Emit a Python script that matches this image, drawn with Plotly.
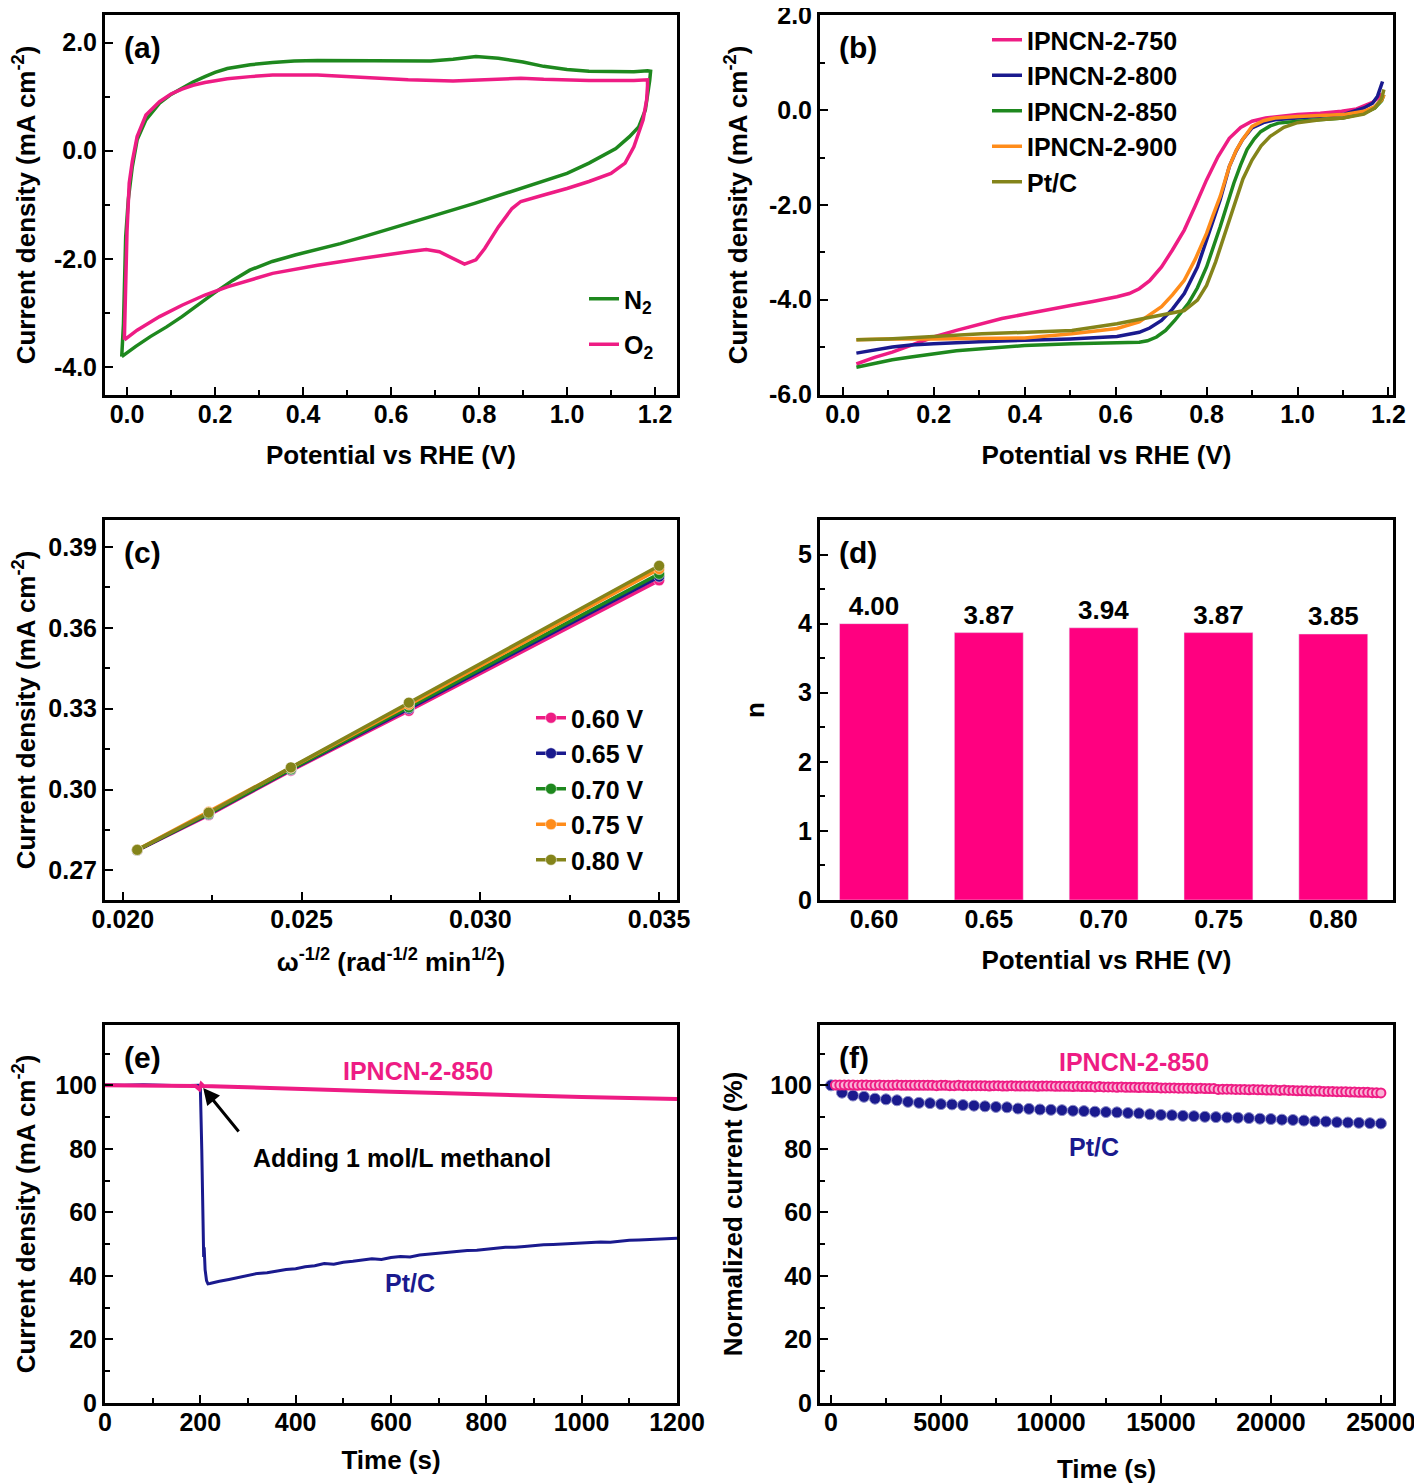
import plotly.graph_objects as go
from plotly.subplots import make_subplots

# ---------------- data ----------------
# (a) CV loops (path order: up the left side, along the top, back along the bottom)
cv_n2_x = [-0.012, -0.008, -0.003, 0.003, 0.012, 0.023, 0.043, 0.074, 0.10, 0.125, 0.15, 0.177, 0.2, 0.228,
           0.28, 0.331, 0.38, 0.433, 0.536, 0.639, 0.69, 0.741, 0.793, 0.844, 0.9, 0.947, 1.0, 1.05, 1.1,
           1.152, 1.183, 1.19, 1.188, 1.185, 1.178, 1.163, 1.142, 1.111, 1.05, 1.0, 0.947, 0.895, 0.79,
           0.69, 0.587, 0.485, 0.382, 0.33, 0.279, 0.24, 0.197, 0.16, 0.125, 0.09, 0.053, 0.02, -0.012]
cv_n2_y = [-3.81, -3.2, -1.6, -0.9, -0.3, 0.2, 0.57, 0.88, 1.04, 1.16, 1.27, 1.37, 1.45, 1.52,
           1.59, 1.63, 1.66, 1.67, 1.66, 1.66, 1.66, 1.69, 1.74, 1.71, 1.64, 1.56, 1.50, 1.47, 1.46,
           1.46, 1.48, 1.47, 1.30, 1.12, 0.75, 0.44, 0.26, 0.04, -0.23, -0.42, -0.56, -0.70, -0.975,
           -1.22, -1.47, -1.72, -1.93, -2.05, -2.21, -2.40, -2.64, -2.87, -3.07, -3.26, -3.44, -3.62, -3.81]
cv_o2_x = [-0.006, -0.004, 0.0, 0.005, 0.012, 0.023, 0.043, 0.074, 0.10, 0.125, 0.15, 0.177, 0.228,
           0.28, 0.331, 0.433, 0.536, 0.639, 0.741, 0.793, 0.844, 0.895, 0.947, 1.05, 1.152, 1.183,
           1.183, 1.181, 1.173, 1.163, 1.152, 1.132, 1.10, 1.05, 1.0, 0.947, 0.895, 0.875, 0.844, 0.813,
           0.793, 0.767, 0.741, 0.71, 0.68, 0.639, 0.536, 0.433, 0.331, 0.228, 0.177, 0.125, 0.074,
           0.023, -0.006]
cv_o2_y = [-3.50, -2.8, -1.5, -0.6, -0.2, 0.26, 0.66, 0.91, 1.05, 1.14, 1.21, 1.26, 1.33,
           1.37, 1.40, 1.40, 1.35, 1.31, 1.29, 1.31, 1.32, 1.34, 1.32, 1.30, 1.30, 1.31,
           1.20, 0.94, 0.57, 0.32, 0.07, -0.23, -0.42, -0.57, -0.70, -0.82, -0.94, -1.07, -1.41, -1.81,
           -2.02, -2.10, -1.99, -1.87, -1.83, -1.87, -1.99, -2.12, -2.27, -2.52, -2.67, -2.86, -3.07,
           -3.32, -3.50]
cv_yticks = [-4.0, -2.0, 0.0, 2.0]
cv_yticktext = ["-4.0", "-2.0", "0.0", "2.0"]

# (b) LSV curves
lsv_750_x = [0.03, 0.07, 0.109, 0.15, 0.2, 0.25, 0.306, 0.35, 0.405, 0.45, 0.504, 0.55, 0.603, 0.63,
             0.652, 0.675, 0.701, 0.725, 0.751, 0.775, 0.8, 0.825, 0.85, 0.875, 0.9, 0.93, 0.96, 1.0,
             1.05, 1.097, 1.13, 1.146, 1.165, 1.176, 1.185]
lsv_750_y = [-5.36, -5.22, -5.11, -4.96, -4.79, -4.65, -4.51, -4.40, -4.30, -4.21, -4.12, -4.04, -3.94,
             -3.87, -3.77, -3.60, -3.31, -2.95, -2.53, -2.02, -1.47, -0.98, -0.59, -0.36, -0.23, -0.16,
             -0.13, -0.09, -0.06, -0.02, 0.03, 0.10, 0.17, 0.25, 0.35]
lsv_800_x = [0.03, 0.07, 0.109, 0.15, 0.2, 0.3, 0.4, 0.5, 0.603, 0.63, 0.652, 0.675, 0.701, 0.725,
             0.751, 0.78, 0.8, 0.815, 0.83, 0.85, 0.865, 0.879, 0.9, 0.925, 0.95, 1.0, 1.05, 1.1,
             1.146, 1.165, 1.176, 1.183, 1.187]
lsv_800_y = [-5.13, -5.07, -5.0, -4.96, -4.93, -4.89, -4.86, -4.83, -4.78, -4.74, -4.69, -4.60, -4.44,
             -4.20, -3.87, -3.31, -2.74, -2.30, -1.89, -1.19, -0.86, -0.62, -0.37, -0.26, -0.20, -0.16,
             -0.13, -0.09, 0.05, 0.15, 0.30, 0.50, 0.61]
lsv_850_x = [0.03, 0.07, 0.109, 0.15, 0.2, 0.25, 0.306, 0.4, 0.504, 0.603, 0.652, 0.67, 0.69, 0.71,
             0.73, 0.76, 0.78, 0.8, 0.815, 0.83, 0.845, 0.86, 0.875, 0.889, 0.905, 0.919, 0.94, 0.958,
             1.0, 1.05, 1.1, 1.146, 1.17, 1.185, 1.19]
lsv_850_y = [-5.43, -5.34, -5.27, -5.21, -5.14, -5.08, -5.04, -4.97, -4.93, -4.92, -4.90, -4.87, -4.79,
             -4.65, -4.44, -4.08, -3.75, -3.31, -2.90, -2.46, -2.00, -1.54, -1.15, -0.83, -0.60, -0.45,
             -0.33, -0.27, -0.23, -0.20, -0.16, -0.06, 0.05, 0.20, 0.33]
lsv_900_x = [0.03, 0.1, 0.2, 0.3, 0.4, 0.504, 0.603, 0.652, 0.701, 0.725, 0.751, 0.775, 0.8, 0.815,
             0.83, 0.85, 0.865, 0.879, 0.9, 0.925, 0.95, 1.0, 1.05, 1.1, 1.146, 1.17, 1.185, 1.19]
lsv_900_y = [-4.85, -4.83, -4.83, -4.82, -4.81, -4.72, -4.61, -4.47, -4.15, -3.90, -3.59, -3.15, -2.60,
             -2.20, -1.82, -1.19, -0.85, -0.62, -0.34, -0.22, -0.16, -0.13, -0.11, -0.09, -0.02, 0.08,
             0.22, 0.33]
lsv_ptc_x = [0.03, 0.1, 0.2, 0.306, 0.405, 0.504, 0.603, 0.652, 0.701, 0.751, 0.78, 0.8, 0.82, 0.84,
             0.86, 0.88, 0.9, 0.92, 0.94, 0.97, 1.0, 1.05, 1.1, 1.146, 1.17, 1.185, 1.19]
lsv_ptc_y = [-4.85, -4.83, -4.78, -4.72, -4.69, -4.65, -4.51, -4.42, -4.33, -4.23, -4.01, -3.70, -3.20,
             -2.60, -2.00, -1.45, -1.05, -0.75, -0.55, -0.36, -0.26, -0.20, -0.16, -0.08, 0.05, 0.25, 0.44]
lsv_yticks = [-6.0, -4.0, -2.0, 0.0, 2.0]
lsv_yticktext = ["-6.0", "-4.0", "-2.0", "0.0", "2.0"]

# (c) K-L plots
kl_x = [0.0204, 0.0224, 0.0247, 0.0280, 0.0350]
kl_060 = [0.2774, 0.2905, 0.3070, 0.3292, 0.3776]
kl_065 = [0.2774, 0.2908, 0.3073, 0.3300, 0.3790]
kl_070 = [0.2775, 0.2910, 0.3075, 0.3305, 0.3800]
kl_075 = [0.2776, 0.2917, 0.3080, 0.3315, 0.3818]
kl_080 = [0.2776, 0.2914, 0.3082, 0.3322, 0.3830]

# (d) electron transfer number
n_potentials = ["0.60", "0.65", "0.70", "0.75", "0.80"]
n_values = [4.00, 3.87, 3.94, 3.87, 3.85]

# (e) methanol tolerance
meth_ipn_t = [0, 100, 190, 198, 202, 206, 300, 400, 500, 600, 700, 800, 900, 1000, 1100, 1200]
meth_ipn_y = [100.0, 99.9, 99.8, 98.8, 100.4, 99.8, 99.3, 98.9, 98.5, 98.0, 97.6, 97.1, 96.8, 96.3,
              96.0, 95.7]
meth_ptc_t = [0, 40, 80, 120, 160, 196, 200, 203, 205, 207, 208, 210, 213, 216, 220, 230, 240,
              260, 280, 300, 320, 340, 360, 380, 400, 420, 440, 460, 480, 500, 520, 540, 560, 580,
              600, 620, 640, 660, 680, 700, 720, 740, 760, 780, 800, 820, 840, 860, 880, 900, 920,
              940, 960, 980, 1000, 1020, 1040, 1060, 1080, 1100, 1120, 1140, 1160, 1180, 1200]
meth_ptc_y = [100.1, 100.0, 100.2, 100.0, 99.9, 100.0, 99.6, 80.0, 60.0, 46.0, 49.0, 42.0, 38.5, 37.5,
              37.6, 38.0, 38.3, 38.9, 39.5, 40.1, 40.8, 41.0, 41.6, 42.0, 42.3, 42.9, 43.2, 43.9, 43.7,
              44.3, 44.6, 44.9, 45.4, 45.2, 45.8, 46.1, 46.0, 46.6, 46.9, 47.2, 47.6, 47.8, 48.0, 48.1,
              48.5, 48.7, 49.0, 49.0, 49.3, 49.6, 49.8, 49.9, 50.1, 50.3, 50.4, 50.5, 50.7, 50.6, 51.0,
              51.2, 51.3, 51.5, 51.6, 51.8, 51.9]

# (f) durability
dur_ipn_t = list(range(200, 25001, 200))
dur_ipn_y = [100.1, 100.1, 100.1, 100.1, 100.1, 100.0, 100.1, 100.1, 100.0, 100.0, 100.1, 100.0, 100.0,
             100.0, 100.1, 100.0, 100.0, 100.0, 100.0, 100.0, 100.0, 100.0, 100.0, 99.9, 100.0,
             100.0, 99.9, 99.9, 100.0, 99.9, 99.9, 99.9, 99.9, 99.9, 99.9, 99.8, 99.9, 99.9, 99.8, 99.8,
             99.9, 99.8, 99.8, 99.8, 99.8, 99.8, 99.7, 99.8, 99.8, 99.8,
             99.7, 99.7, 99.7, 99.7, 99.6, 99.7, 99.6, 99.6, 99.6, 99.5, 99.6, 99.5, 99.5, 99.5, 99.4,
             99.5, 99.4, 99.4, 99.4, 99.3, 99.4, 99.3, 99.3, 99.3, 99.2,
             99.2, 99.2, 99.2, 99.1, 99.1, 99.1, 99.1, 99.0, 99.1, 99.0, 99.0, 99.0, 98.7, 98.8, 98.8,
             98.8, 98.7, 98.7, 98.7, 98.6, 98.7, 98.6, 98.6, 98.5, 98.5,
             98.5, 98.4, 98.5, 98.4, 98.4, 98.3, 98.3, 98.3, 98.2, 98.2, 98.2, 98.1, 98.1, 98.1, 98.0,
             98.0, 98.0, 97.9, 97.9, 97.8, 97.8, 97.8, 97.7, 97.7, 97.6]
dur_ptc_t = list(range(0, 25001, 500))
dur_ptc_y = [100.0, 97.7, 96.8, 96.4, 95.8, 95.6, 95.3, 94.8, 94.5, 94.4, 94.1, 94.0, 93.8, 93.6, 93.4,
             93.2, 93.1, 92.7, 92.6, 92.4, 92.3, 92.2, 92.0, 91.9, 91.7, 91.6, 91.5, 91.3, 91.2, 90.9,
             90.7, 90.6, 90.4, 90.3, 90.1, 90.0, 89.9, 89.8, 89.7, 89.5, 89.4, 89.2, 89.1, 88.9, 88.7,
             88.6, 88.4, 88.3, 88.2, 88.1, 88.0]

# ---------------- style ----------------
PINK = "#EE1C84"
BAR_PINK = "#FF0080"
GREEN = "#1E881E"
NAVY = "#1A1A8E"
ORANGE = "#FF8C1A"
OLIVE = "#84841A"
FONT = "Liberation Sans, Arial, sans-serif"
FS = 25

# the page puts the figure 8 px in from the top-left corner
OFF = 8
W, H = 1422 - OFF, 1484 - OFF
cols_px = [(105, 677), (820, 1393)]
rows_px = [(15, 395), (520, 900), (1025, 1403)]


def px_x(p):
    return (p - OFF) / W


def px_y(p):
    return 1 - (p - OFF) / H


def dom_x(c):
    return [px_x(cols_px[c][0]), px_x(cols_px[c][1])]


def dom_y(r):
    return [px_y(rows_px[r][1]), px_y(rows_px[r][0])]


fig = make_subplots(rows=3, cols=2)

# (a)
fig.add_trace(go.Scatter(x=cv_n2_x, y=cv_n2_y, mode="lines", name="N<sub>2</sub>",
                         line=dict(color=GREEN, width=3.5), legend="legend", legendgroup="n2"), 1, 1)
fig.add_trace(go.Scatter(x=cv_o2_x, y=cv_o2_y, mode="lines", name="O<sub>2</sub>",
                         line=dict(color=PINK, width=3.5), legend="legend", legendgroup="o2"), 1, 1)

# (b)
for xs, ys, nm, col in [(lsv_750_x, lsv_750_y, "IPNCN-2-750", PINK),
                        (lsv_800_x, lsv_800_y, "IPNCN-2-800", NAVY),
                        (lsv_850_x, lsv_850_y, "IPNCN-2-850", GREEN),
                        (lsv_900_x, lsv_900_y, "IPNCN-2-900", ORANGE),
                        (lsv_ptc_x, lsv_ptc_y, "Pt/C", OLIVE)]:
    fig.add_trace(go.Scatter(x=xs, y=ys, mode="lines", name=nm, line=dict(color=col, width=3.5),
                             legend="legend2", legendgroup=nm), 1, 2)

# (c)
for ys, nm, col in [(kl_060, "0.60 V", PINK), (kl_065, "0.65 V", NAVY), (kl_070, "0.70 V", GREEN),
                    (kl_075, "0.75 V", ORANGE), (kl_080, "0.80 V", OLIVE)]:
    fig.add_trace(go.Scatter(x=kl_x, y=ys, mode="lines+markers", name=nm,
                             line=dict(color=col, width=3.5),
                             marker=dict(color=col, size=11, line=dict(color="rgba(255,255,255,0.5)", width=1)),
                             legend="legend3", legendgroup=nm), 2, 1)

# (d)
fig.add_trace(go.Bar(x=list(range(len(n_values))), y=n_values, width=0.6, marker_color=BAR_PINK,
                     text=[f"{v:.2f}" for v in n_values], textposition="outside", cliponaxis=False,
                     textfont=dict(family=FONT, size=26, color="black", weight="bold"),
                     showlegend=False), 2, 2)

# (e)
fig.add_trace(go.Scatter(x=meth_ptc_t, y=meth_ptc_y, mode="lines", line=dict(color=NAVY, width=3),
                         showlegend=False), 3, 1)
fig.add_trace(go.Scatter(x=meth_ipn_t, y=meth_ipn_y, mode="lines", line=dict(color=PINK, width=4),
                         showlegend=False), 3, 1)

# (f)
fig.add_trace(go.Scatter(x=dur_ptc_t, y=dur_ptc_y, mode="lines+markers", line=dict(color=NAVY, width=2),
                         marker=dict(color=NAVY, size=11, line=dict(color="#8C8CC8", width=1)),
                         showlegend=False), 3, 2)
fig.add_trace(go.Scatter(x=dur_ipn_t, y=dur_ipn_y, mode="markers",
                         marker=dict(color="#F9B3D6", size=9, line=dict(color=PINK, width=2)),
                         showlegend=False), 3, 2)

tick_font = dict(family=FONT, size=FS, color="black", weight="bold")
title_font = dict(family=FONT, size=26, color="black", weight="bold")

common = dict(showline=True, linewidth=3, linecolor="black", mirror=True, showgrid=False,
              zeroline=False, ticks="inside", ticklen=8, tickwidth=2, tickcolor="black",
              tickfont=tick_font, automargin=False, ticklabeloverflow="allow")

# axis settings: (row, col) -> (xcfg, ycfg)
cfg = {
    (1, 1): (dict(range=[-0.05, 1.25], dtick=0.2, tick0=0, tickformat=".1f",
                  minor=dict(dtick=0.1, ticks="inside", ticklen=5),
                  title=dict(text="Potential vs RHE (V)", standoff=19)),
             dict(range=[-4.52, 2.51], tickvals=cv_yticks, ticktext=cv_yticktext,
                  minor=dict(dtick=1, ticks="inside", ticklen=5),
                  title=dict(text="Current density (mA cm<sup>-2</sup>)", standoff=22))),
    (1, 2): (dict(range=[-0.05, 1.21], dtick=0.2, tick0=0, tickformat=".1f",
                  minor=dict(dtick=0.1, ticks="inside", ticklen=5),
                  title=dict(text="Potential vs RHE (V)", standoff=19)),
             dict(range=[-6.015, 2.015], tickvals=lsv_yticks, ticktext=lsv_yticktext,
                  minor=dict(dtick=1, ticks="inside", ticklen=5),
                  title=dict(text="Current density (mA cm<sup>-2</sup>)", standoff=14))),
    (2, 1): (dict(range=[0.0195, 0.0355], dtick=0.005, tick0=0.02, tickformat=".3f",
                  minor=dict(dtick=0.0025, ticks="inside", ticklen=5),
                  title=dict(text="\u03c9<sup>-1/2</sup> (rad<sup>-1/2</sup> min<sup>1/2</sup>)", standoff=21)),
             dict(range=[0.259, 0.40], dtick=0.03, tick0=0.27, tickformat=".2f",
                  minor=dict(dtick=0.015, ticks="inside", ticklen=5),
                  title=dict(text="Current density (mA cm<sup>-2</sup>)", standoff=16))),
    (2, 2): (dict(range=[-0.47, 4.52], tickvals=list(range(len(n_potentials))), ticktext=n_potentials,
                  ticks="",
                  title=dict(text="Potential vs RHE (V)", standoff=19)),
             dict(range=[0, 5.5], dtick=1, tick0=0,
                  minor=dict(dtick=0.5, ticks="inside", ticklen=5),
                  title=dict(text="n", standoff=26))),
    (3, 1): (dict(range=[0, 1200], dtick=200, tick0=0,
                  minor=dict(dtick=100, ticks="inside", ticklen=5),
                  title=dict(text="Time (s)", standoff=16)),
             dict(range=[0, 119], dtick=20, tick0=0,
                  minor=dict(dtick=10, ticks="inside", ticklen=5),
                  title=dict(text="Current density (mA cm<sup>-2</sup>)", standoff=23))),
    (3, 2): (dict(range=[-500, 25550], dtick=5000, tick0=0, tickformat="d",
                  minor=dict(dtick=2500, ticks="inside", ticklen=5),
                  title=dict(text="Time (s)", standoff=28)),
             dict(range=[0, 119], dtick=20, tick0=0,
                  minor=dict(dtick=10, ticks="inside", ticklen=5),
                  title=dict(text="Normalized current (%)", standoff=21))),
}

for (r, c), (xc, yc) in cfg.items():
    xc["title"]["font"] = title_font
    yc["title"]["font"] = title_font
    fig.update_xaxes(**{**common, **xc}, ticklabelstandoff=-5, domain=dom_x(c - 1), row=r, col=c)
    fig.update_yaxes(**{**common, **yc}, domain=dom_y(r - 1), row=r, col=c)

# panel letters
letters = ["(a)", "(b)", "(c)", "(d)", "(e)", "(f)"]
axis_ids = ["", "2", "3", "4", "5", "6"]
annotations = []
for letter, aid in zip(letters, axis_ids):
    annotations.append(dict(text=letter, xref=f"x{aid} domain", yref=f"y{aid} domain", x=0.03, y=0.915,
                            xanchor="left", yanchor="middle", showarrow=False,
                            font=dict(family=FONT, size=30, color="black", weight="bold")))

# (e) / (f) labels and arrow
annotations += [
    dict(text="IPNCN-2-850", x=657, y=104.4, xref="x5", yref="y5", showarrow=False,
         font=dict(family=FONT, size=FS, color=PINK, weight="bold")),
    dict(text="Pt/C", x=640, y=37.7, xref="x5", yref="y5", showarrow=False,
         font=dict(family=FONT, size=FS, color=NAVY, weight="bold")),
    dict(text="Adding 1 mol/L methanol", x=623, y=77.0, xref="x5", yref="y5", showarrow=False,
         font=dict(family=FONT, size=FS, color="black", weight="bold")),
    dict(text="", x=206, y=99.2, xref="x5", yref="y5", ax=283, ay=85.0, axref="x5", ayref="y5",
         showarrow=True, arrowhead=2, arrowsize=1.1, arrowwidth=3, arrowcolor="black"),
    dict(text="IPNCN-2-850", x=13793, y=107.2, xref="x6", yref="y6", showarrow=False,
         font=dict(family=FONT, size=FS, color=PINK, weight="bold")),
    dict(text="Pt/C", x=11978, y=80.5, xref="x6", yref="y6", showarrow=False,
         font=dict(family=FONT, size=FS, color=NAVY, weight="bold")),
]

leg_font = dict(family=FONT, size=FS, color="black", weight="bold")
fig.update_layout(
    width=W, height=H,
    margin=dict(l=0, r=0, t=0, b=0),
    paper_bgcolor="white", plot_bgcolor="white",
    font=dict(family=FONT, size=FS, color="black", weight="bold"),
    annotations=annotations,
    bargap=0.4,
    legend=dict(x=px_x(584), y=px_y(276), xanchor="left", yanchor="top", bgcolor="rgba(0,0,0,0)",
                font=leg_font, tracegroupgap=10, traceorder="grouped"),
    legend2=dict(x=px_x(987), y=px_y(17), xanchor="left", yanchor="top", bgcolor="rgba(0,0,0,0)",
                 font=leg_font, tracegroupgap=0, traceorder="grouped"),
    legend3=dict(x=px_x(531), y=px_y(695), xanchor="left", yanchor="top", bgcolor="rgba(0,0,0,0)",
                 font=leg_font, tracegroupgap=0, traceorder="grouped"),
)

fig.write_html("out.html")
